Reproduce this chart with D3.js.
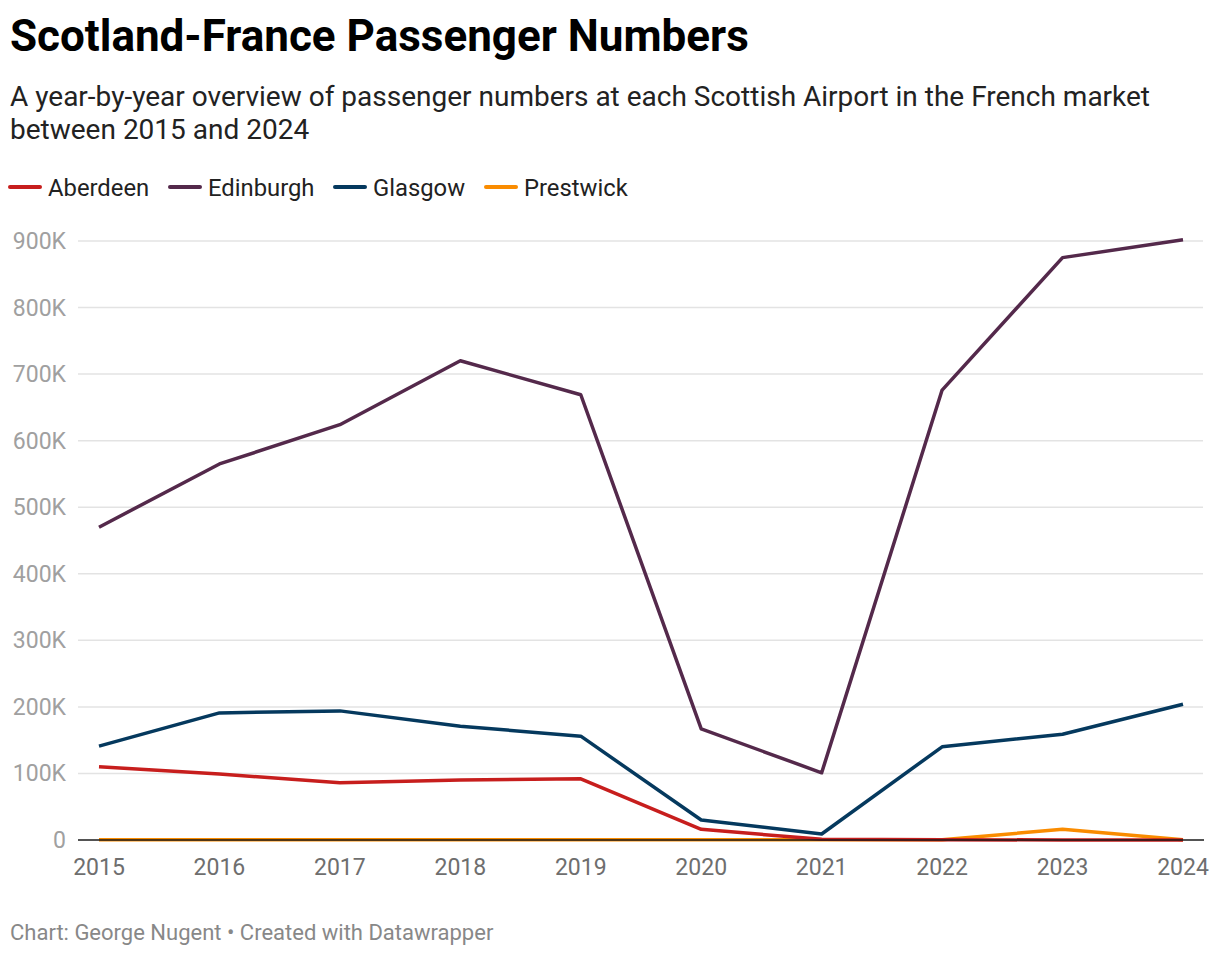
<!DOCTYPE html>
<html>
<head>
<meta charset="utf-8">
<script src="https://cdn.jsdelivr.net/npm/d3@7"></script>
<style>
  body { margin: 0; background: #fff; font-family: Roboto, sans-serif; }
</style>
</head>
<body>
<div id="chart"></div>
<script>
var years = [2015, 2016, 2017, 2018, 2019, 2020, 2021, 2022, 2023, 2024];
var aberdeen  = [110000, 99000, 86000, 90000, 92000, 16000, 1000, 500, 0, 0];
var edinburgh = [470000, 565000, 624000, 720000, 669000, 167000, 101000, 676000, 875000, 902000];
var glasgow   = [141000, 191000, 194000, 171000, 156000, 30000, 9000, 140000, 159000, 204000];
var prestwick = [500, 500, 500, 500, 500, 500, 500, 500, 16000, 500];
var seriesNames = ["Aberdeen", "Edinburgh", "Glasgow", "Prestwick"];
var seriesColors = ["#c71e1d", "#54294b", "#05395e", "#fa8c00"];
var yTicks = [0, 100000, 200000, 300000, 400000, 500000, 600000, 700000, 800000, 900000];

var svg = d3.select("#chart").append("svg")
      .attr("width", 1220)
      .attr("height", 958);

svg.append("text")
      .attr("x", 10).attr("y", 51)
      .attr("font-size", 44).attr("font-weight", "bold").attr("fill", "#000")
      .text("Scotland-France Passenger Numbers");

svg.append("text")
      .attr("x", 10).attr("y", 106)
      .attr("font-size", 28).attr("fill", "#222")
      .text("A year-by-year overview of passenger numbers at each Scottish Airport in the French market");
svg.append("text")
      .attr("x", 10).attr("y", 139)
      .attr("font-size", 28).attr("fill", "#222")
      .text("between 2015 and 2024");

// legend
var legendX = [10, 170, 335, 486];
var legend = svg.append("g").attr("class", "legend");
legend.selectAll("line")
      .data(seriesNames)
      .enter()
      .append("line")
      .attr("x1", function(d, i){ return legendX[i]; })
      .attr("x2", function(d, i){ return legendX[i] + 30; })
      .attr("y1", 187).attr("y2", 187)
      .attr("stroke", function(d, i){ return seriesColors[i]; })
      .attr("stroke-width", 4)
      .attr("stroke-linecap", "round");
legend.selectAll("text")
      .data(seriesNames)
      .enter()
      .append("text")
      .attr("x", function(d, i){ return legendX[i] + 38; })
      .attr("y", 196)
      .attr("font-size", 23.8).attr("fill", "#222")
      .text(function(d){ return d; });

var x = d3.scaleLinear().domain([2015, 2024]).range([99, 1183]);
var y = d3.scaleLinear().domain([0, 900000]).range([840, 241]);

var grid = svg.append("g");
grid.selectAll("line")
      .data(yTicks.slice(1))
      .enter()
      .append("line")
      .attr("x1", 78).attr("x2", 1203)
      .attr("y1", function(d){ return y(d); })
      .attr("y2", function(d){ return y(d); })
      .attr("stroke", "#e3e3e3")
      .attr("stroke-width", 1.5);

grid.selectAll("text")
      .data(yTicks)
      .enter()
      .append("text")
      .attr("x", 66)
      .attr("y", function(d){ return y(d) + 8; })
      .attr("text-anchor", "end")
      .attr("font-size", 23).attr("fill", "#a0a0a0")
      .text(function(d){ return d === 0 ? "0" : (d / 1000) + "K"; });

var xAxis = svg.append("g");
xAxis.selectAll("text")
      .data(years)
      .enter()
      .append("text")
      .attr("x", function(d){ return x(d); })
      .attr("y", 875)
      .attr("text-anchor", "middle")
      .attr("font-size", 23).attr("fill", "#6e6e6e")
      .text(function(d){ return d; });

var line = d3.line()
      .x(function(d, i){ return x(years[i]); })
      .y(function(d){ return y(d); });

var allSeries = [aberdeen, edinburgh, glasgow, prestwick];
var drawOrder = [3, 0, 2, 1];
svg.append("g").selectAll("path")
      .data(drawOrder)
      .enter()
      .append("path")
      .attr("d", function(k){ return line(allSeries[k]); })
      .attr("fill", "none")
      .attr("stroke", function(k){ return seriesColors[k]; })
      .attr("stroke-width", 3.5)
      .attr("stroke-linejoin", "round");

svg.append("line")
      .attr("x1", 78).attr("x2", 1204)
      .attr("y1", y(0)).attr("y2", y(0))
      .attr("stroke", "#1a1a1a")
      .attr("stroke-width", 1.5);

svg.append("text")
      .attr("x", 10).attr("y", 940)
      .attr("font-size", 22).attr("fill", "#888")
      .text("Chart: George Nugent • Created with Datawrapper");
</script>
</body>
</html>
